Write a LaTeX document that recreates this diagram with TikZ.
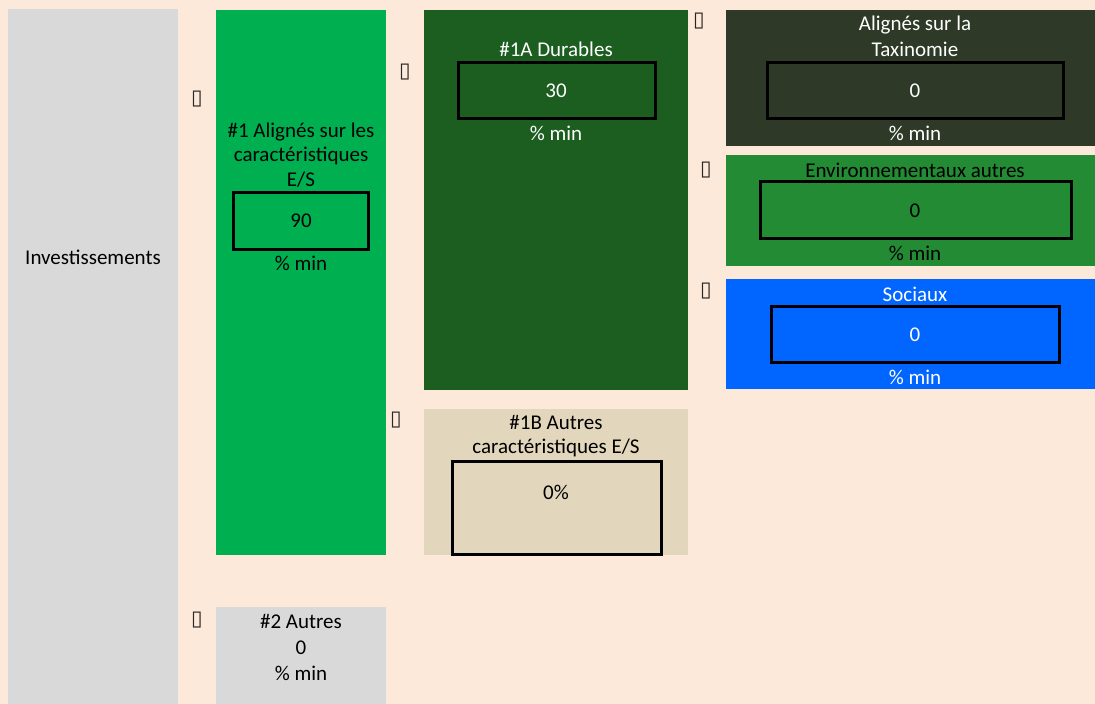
\documentclass[tikz,border=0pt]{standalone}
\usepackage{fontspec}
\setmainfont{Carlito}
\newfontfamily\symfont{DejaVu Sans}
\definecolor{bgc}{HTML}{FDE9D9}
\definecolor{grayc}{HTML}{D9D9D9}
\definecolor{greenc}{HTML}{00B050}
\definecolor{durc}{HTML}{1B5E20}
\definecolor{taxc}{HTML}{2E3A27}
\definecolor{envc}{HTML}{228B34}
\definecolor{socc}{HTML}{0066FF}
\definecolor{tanc}{HTML}{E2D6BC}
\begin{document}
\begin{tikzpicture}[x=1pt,y=-1pt,
  panel/.style={inner sep=0pt, outer sep=0pt, anchor=north west, draw=none},
  valbox/.style={draw=black, line width=3pt, inner sep=0pt, outer sep=0pt, anchor=north west},
  lbl/.style={inner sep=0pt, align=center, font=\fontsize{21}{24.5}\selectfont},
  lblw/.style={inner sep=0pt, align=center, font=\fontsize{21}{26}\selectfont},
  miss/.style={inner sep=0pt, font=\symfont\fontsize{21}{21}\selectfont, text=black!85}]
\fill[bgc] (0,0) rectangle (1095,704);
\useasboundingbox (0,0) rectangle (1095,704);
% panels
\node[panel, fill=grayc, minimum width=170pt, minimum height=695pt] (inv) at (8,9) {};
\node[panel, fill=greenc, minimum width=170pt, minimum height=545pt] (p1) at (216,10) {};
\node[panel, fill=grayc, minimum width=170pt, minimum height=97pt] (p2) at (216,607) {};
\node[panel, fill=durc, minimum width=264pt, minimum height=380pt] (p1a) at (424,10) {};
\node[panel, fill=tanc, minimum width=264pt, minimum height=146pt] (p1b) at (424,409) {};
\node[panel, fill=taxc, minimum width=369pt, minimum height=136pt] (ptax) at (726,10) {};
\node[panel, fill=envc, minimum width=369pt, minimum height=111pt] (penv) at (726,155) {};
\node[panel, fill=socc, minimum width=369pt, minimum height=110pt] (psoc) at (726,279) {};
% value boxes
\node[valbox, minimum width=135pt, minimum height=57pt] (b1) at (233,192) {};
\node[valbox, minimum width=197pt, minimum height=56pt] (b1a) at (458,62) {};
\node[valbox, minimum width=296pt, minimum height=56pt] (btax) at (767,62) {};
\node[valbox, minimum width=311pt, minimum height=57pt] (benv) at (760,181) {};
\node[valbox, minimum width=288pt, minimum height=56pt] (bsoc) at (771,306) {};
\node[valbox, minimum width=209pt, minimum height=93pt] (b1b) at (452,461) {};
% texts
\node[lbl] (tinv) at (93,257) {Investissements};
\node[lbl] (t1) at (301,155) {\#1 Alignés sur les\\caractéristiques\\E/S};
\node[lbl] (v1) at (301,221) {90};
\node[lbl] (m1) at (301,263) {\% min};
\node[lbl, text=white] (t1a) at (556,49) {\#1A Durables};
\node[lbl, text=white] (v1a) at (556,91) {30};
\node[lbl, text=white] (m1a) at (556,133) {\% min};
\node[lblw, text=white] (ttax) at (915,36) {Alignés sur la\\Taxinomie};
\node[lbl, text=white] (vtax) at (915,91) {0};
\node[lbl, text=white] (mtax) at (915,133) {\% min};
\node[lbl] (tenv) at (915,170) {Environnementaux autres};
\node[lbl] (venv) at (915,211) {0};
\node[lbl] (menv) at (915,253) {\% min};
\node[lbl, text=white] (tsoc) at (915,294) {Sociaux};
\node[lbl, text=white] (vsoc) at (915,335) {0};
\node[lbl, text=white] (msoc) at (915,377) {\% min};
\node[lbl] (t1b) at (556,436) {\#1B Autres\\caractéristiques E/S};
\node[lbl] (v1b) at (556,492) {0\%};
\node[lblw] (t2) at (301,647) {\#2 Autres\\0\\\% min};
% missing-glyph marks
\node[miss] (g1) at (197,99) {▯};
\node[miss] (g2) at (405,72) {▯};
\node[miss] (g3) at (699,21) {▯};
\node[miss] (g4) at (706,170) {▯};
\node[miss] (g5) at (706,291) {▯};
\node[miss] (g6) at (396,420) {▯};
\node[miss] (g7) at (197,620) {▯};
\end{tikzpicture}
\end{document}
